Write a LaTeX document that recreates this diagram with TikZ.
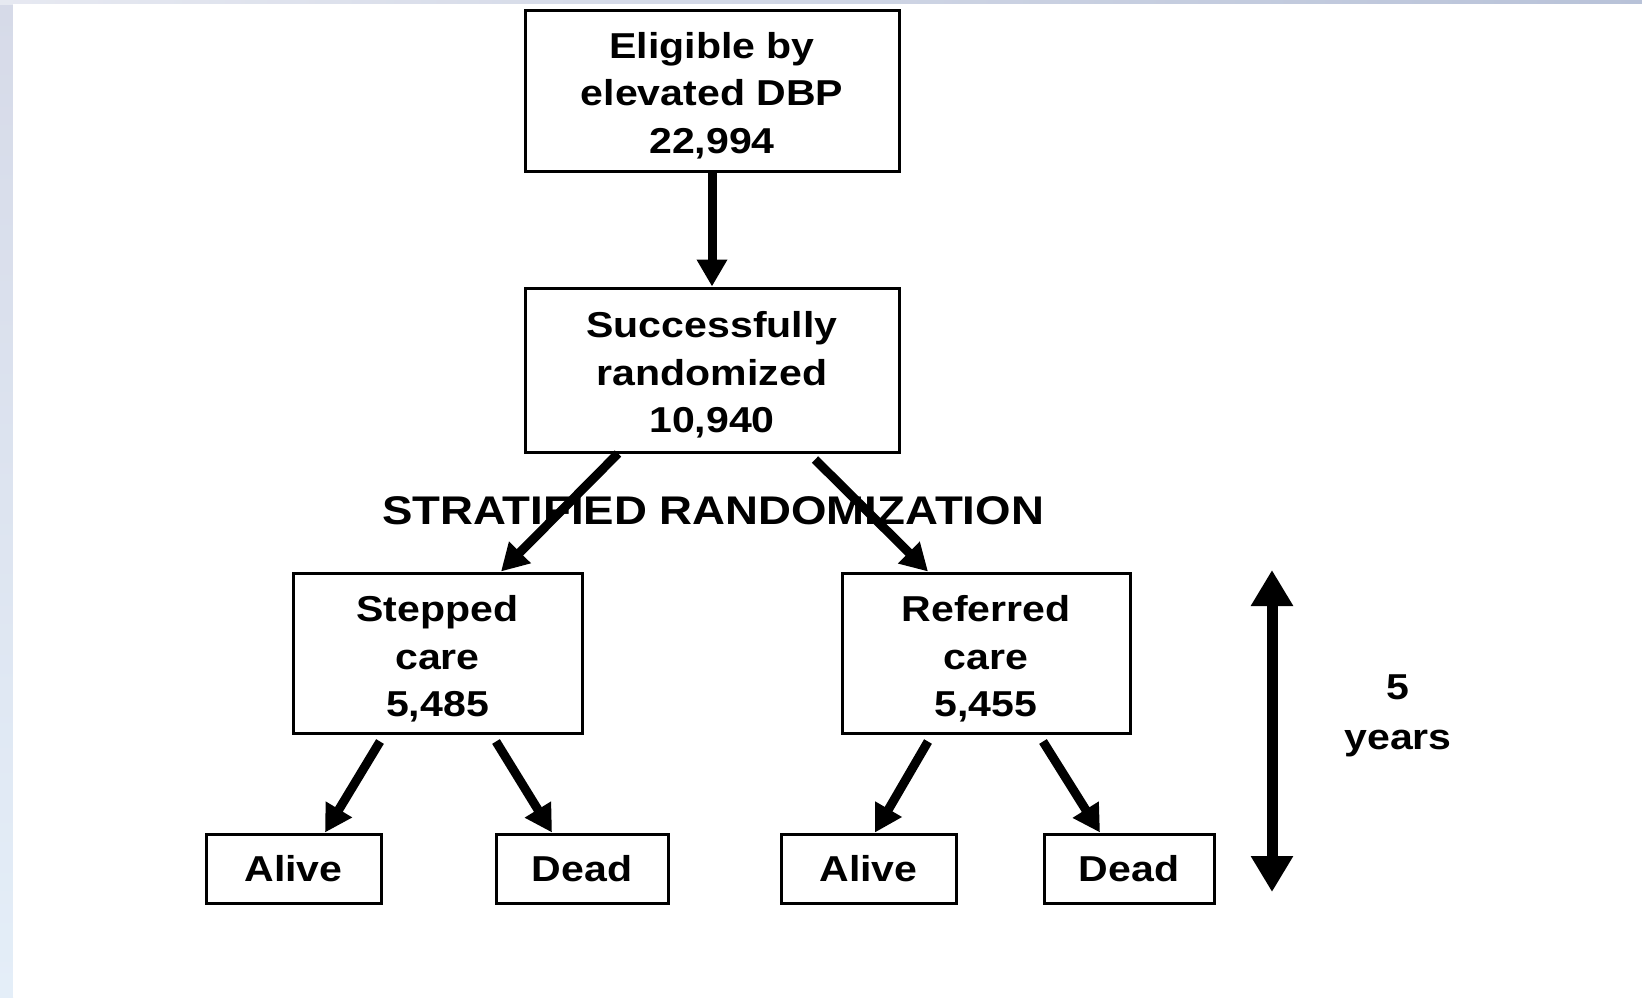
\documentclass[tikz,border=0pt]{standalone}
\usepackage{fontspec}
\setmainfont[FakeStretch=1.14]{Liberation Sans}
\usetikzlibrary{arrows.meta}
\definecolor{stripA}{HTML}{D6DAE8}
\definecolor{stripB}{HTML}{E4EEF8}
\definecolor{stripC}{HTML}{B8C2D8}
\begin{document}
\begin{tikzpicture}[x=1pt,y=-1pt,
  box/.style={draw=black,line width=3pt,fill=white,align=center,inner sep=0pt,
    font=\fontsize{36}{47.5}\selectfont\bfseries},
  boxtext/.style={align=center,inner sep=0pt,
    font=\fontsize{36}{47.5}\selectfont\bfseries},
  smallbox/.style={box,minimum height=69pt},
  flow/.style={line width=9pt,-{Triangle[width=29pt,length=27pt]}},
  label/.style={font=\fontsize{40}{49}\selectfont\bfseries,inner sep=0pt}]
  % page frame with the pale border strips
  \useasboundingbox (0,0) rectangle (1642,997);
  \shade[top color=stripA,bottom color=stripB] (0,0) rectangle (13,997);
  \shade[left color=stripA!60!white,right color=stripC] (0,0) rectangle (1642,4);
  \fill[white] (13,4) rectangle (1642,997);

  % boxes
  \node[box,minimum width=374pt,minimum height=161pt] (elig) at (712,90.5) {};
  \node[boxtext] (eligText) at ([yshift=-5pt]elig.center)
    {Eligible by\\elevated DBP\\22,994};
  \node[box,minimum width=374pt,minimum height=164pt] (rand) at (712,370) {};
  \node[boxtext] (randText) at ([yshift=-5pt]rand.center)
    {Successfully\\randomized\\10,940};
  \node[box,minimum width=289pt,minimum height=160pt] (step) at (437.5,653) {};
  \node[boxtext] (stepText) at ([yshift=-6pt]step.center)
    {Stepped\\care\\5,485};
  \node[box,minimum width=288pt,minimum height=160pt] (ref) at (986,653) {};
  \node[boxtext] (refText) at ([yshift=-6pt]ref.center)
    {Referred\\care\\5,455};
  \node[smallbox,minimum width=175pt] (aliveA) at (293.5,868.5) {Alive};
  \node[smallbox,minimum width=172pt] (deadA) at (582,868.5) {Dead};
  \node[smallbox,minimum width=175pt] (aliveB) at (868.5,868.5) {Alive};
  \node[smallbox,minimum width=170pt] (deadB) at (1129,868.5) {Dead};

  % connectors
  \draw[flow] (elig.south) -- (rand.north);
  \draw[flow] ([xshift=-94pt]rand.south) -- ([xshift=63.5pt]step.north);
  \draw[flow] ([xshift=103pt,yshift=-6pt]rand.south) -- ([xshift=-58pt]ref.north);
  \draw[flow] ([xshift=-57.5pt,yshift=-7pt]step.south) -- ([xshift=31.5pt]aliveA.north);
  \draw[flow] ([xshift=58.5pt,yshift=-7pt]step.south) -- ([xshift=-30pt]deadA.north);
  \draw[flow] ([xshift=-58pt,yshift=-7pt]ref.south) -- ([xshift=6.5pt]aliveB.north);
  \draw[flow] ([xshift=57pt,yshift=-7pt]ref.south) -- ([xshift=-29pt]deadB.north);

  \node[label] (strat) at (713,511) {STRATIFIED RANDOMIZATION};

  % follow-up period
  \coordinate (spanTop) at (1272,570);
  \coordinate (spanBot) at (1272,892);
  \draw[line width=11pt,{Triangle[width=40pt,length=36pt]}-{Triangle[width=40pt,length=36pt]}]
    (spanTop) -- (spanBot);
  \node[align=center,inner sep=0pt,font=\fontsize{36}{50}\selectfont\bfseries] (yrs) at (1398,716)
    {5\\years};
\end{tikzpicture}
\end{document}
